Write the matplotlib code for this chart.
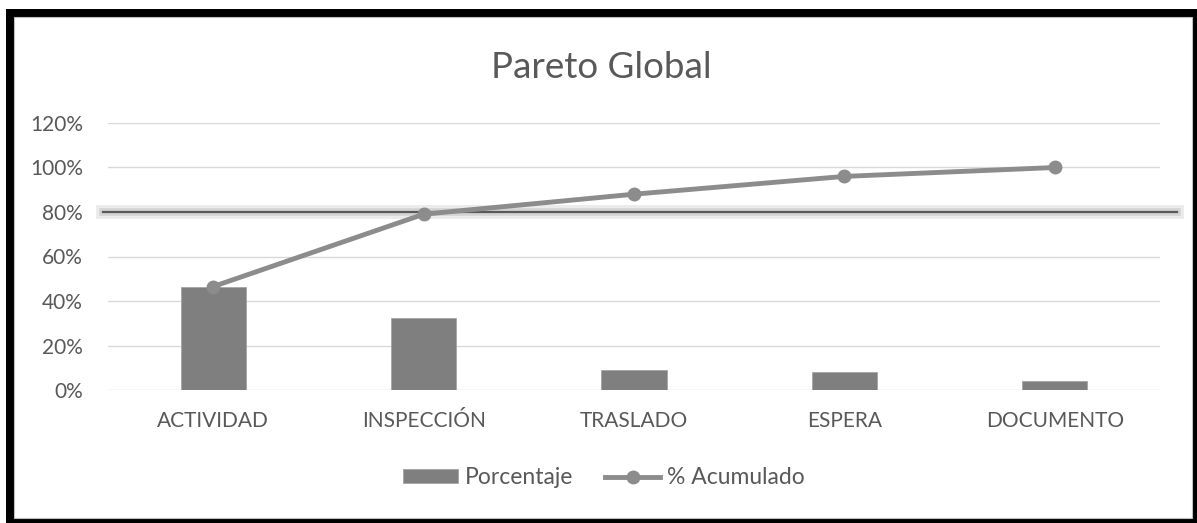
import matplotlib
matplotlib.use("Agg")
import matplotlib.pyplot as plt
from matplotlib.patches import Rectangle
from matplotlib.lines import Line2D
import matplotlib.patheffects as pe
import matplotlib.transforms as mtransforms
from matplotlib.ticker import FuncFormatter

categories = ["ACTIVIDAD", "INSPECCIÓN", "TRASLADO", "ESPERA", "DOCUMENTO"]
porcentaje = [46.5, 32.5, 9.0, 8.0, 4.0]
acumulado = [46.5, 79.0, 88.0, 96.0, 100.0]
yticks = [0, 20, 40, 60, 80, 100, 120]
threshold = 80

W, H = 1197, 523
plt.rcParams['font.family'] = ['Lato', 'DejaVu Sans']
fig = plt.figure(figsize=(W / 100, H / 100), dpi=100)
fig.patch.set_facecolor("white")

# black frame
fig.patches.append(Rectangle((6 / W, 0), 1 - 6 / W, (H - 9) / H, transform=fig.transFigure,
                             facecolor="black", edgecolor="none", zorder=-20))
fig.patches.append(Rectangle((14 / W, 5 / H), (1192 - 14) / W, (518 - 17) / H,
                             transform=fig.transFigure, facecolor="white",
                             edgecolor="#bfbfbf", linewidth=0.8, zorder=-19))

ax = fig.add_axes([108 / W, (H - 390) / H, (1160 - 108) / W, (390 - 123) / H])
ax.set_zorder(1)
ax.set_facecolor("none")
x = list(range(len(categories)))
bars = ax.bar(x, porcentaje, width=0.31, color="#7f7f7f", edgecolor="#a6a6a6", linewidth=0.6,
              zorder=2, label="Porcentaje")
line, = ax.plot(x, acumulado, color="#8c8c8c", linewidth=3.5, marker="o", markersize=9,
                markerfacecolor="#8c8c8c", markeredgecolor="#8c8c8c", zorder=3,
                label="% Acumulado")

ax.set_xlim(-0.5, len(categories) - 0.5)
ax.set_ylim(0, 120)
ax.set_yticks(yticks)
ax.yaxis.set_major_formatter(FuncFormatter(lambda v, p: f"{int(v)}%"))
ax.set_xticks(x)
ax.set_xticklabels(categories)
ax.grid(axis="y", color="#d9d9d9", linewidth=1)
ax.set_axisbelow(True)
for s in ax.spines.values():
    s.set_visible(False)
ax.tick_params(axis="both", length=0, colors="#595959", labelsize=15)
ax.tick_params(axis="y", pad=18)
ax.tick_params(axis="x", pad=15)

# 80% threshold line with glow, extending past plot area (above grid, beneath the series)
blend = mtransforms.blended_transform_factory(fig.transFigure, ax.transData)
ln = Line2D([103 / W, 1177 / W], [threshold, threshold], transform=blend,
            color="#595959", linewidth=1.6, zorder=1.5, clip_on=False,
            path_effects=[pe.Stroke(linewidth=10, foreground="#ebebeb"),
                          pe.Stroke(linewidth=5.5, foreground="#d4d4d4"), pe.Normal()])
ax.add_line(ln)

fig.text(601 / W, 1 - 68 / H, "Pareto Global", ha="center", va="center",
         fontsize=26.5, color="#595959")

leg = fig.legend([bars, line], ["Porcentaje", "% Acumulado"], loc="center",
                 bbox_to_anchor=(604 / W, 1 - 478 / H), ncol=2,
                 frameon=False, fontsize=16.5, labelcolor="#595959", handlelength=2.4,
                 handleheight=0.55, columnspacing=1.4, handletextpad=0.3)

fig.savefig("out.png", dpi=100, facecolor="white")
